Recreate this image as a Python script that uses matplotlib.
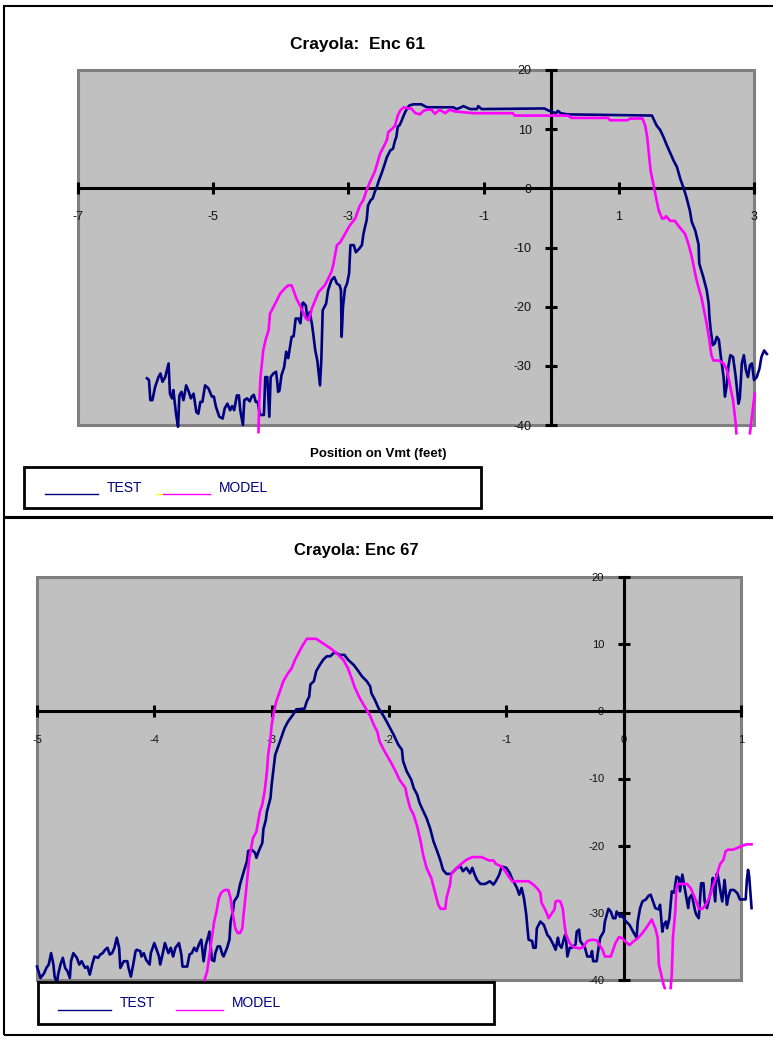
import numpy as np
import matplotlib
matplotlib.use('Agg')
import matplotlib.pyplot as plt
from matplotlib.patches import Rectangle
from matplotlib.lines import Line2D

plt.rcParams['font.family'] = ['Liberation Sans', 'DejaVu Sans']
plt.rcParams['axes.unicode_minus'] = False

nan = np.nan

# Enc 61 : (position, value)
test61 = [(-5.98,-32.1),(-5.95,-32.4),(-5.93,-35.8),(-5.90,-35.8),(-5.86,-33.6),(-5.81,-31.9),(-5.78,-31.3),(-5.75,-32.7),
          (-5.71,-31.9),(-5.66,-29.6),(-5.64,-34.7),(-5.61,-35.5),(-5.59,-34.1),(-5.55,-38.1),(-5.52,-40.3),(-5.50,-35.0),
          (-5.47,-34.4),(-5.44,-35.8),(-5.40,-33.3),(-5.37,-34.1),(-5.33,-35.5),(-5.29,-34.7),(-5.25,-37.8),(-5.22,-38.1),
          (-5.19,-36.1),(-5.16,-36.1),(-5.12,-33.3),(-5.07,-33.8),(-5.02,-35.2),(-4.99,-35.2),(-4.96,-36.9),(-4.91,-38.6),
          (-4.86,-38.9),(-4.83,-37.2),(-4.79,-36.4),(-4.75,-37.5),(-4.72,-36.8),(-4.69,-37.5),(-4.65,-35.0),(-4.62,-35.0),
          (-4.60,-37.5),(-4.56,-40.0),(-4.54,-35.8),(-4.50,-35.5),(-4.46,-36.0),(-4.43,-35.2),(-4.40,-34.9),(-4.37,-36.1),
          (-4.34,-36.1),(-4.31,-38.3),(-4.25,-38.3),(-4.23,-31.9),(-4.20,-31.9),(-4.17,-38.6),(-4.15,-31.9),(-4.11,-31.3),
          (-4.07,-31.0),(-4.05,-33.0),(-4.04,-34.4),(-4.02,-34.2),(-3.99,-31.6),(-3.95,-30.2),(-3.92,-27.6),(-3.89,-28.7),
          (-3.87,-27.3),(-3.84,-25.1),(-3.81,-25.0),(-3.78,-22.0),(-3.74,-22.0),(-3.71,-22.8),(-3.68,-19.5),(-3.67,-19.3),
          (-3.63,-19.8),(-3.61,-21.7),(-3.57,-20.9),(-3.56,-21.7),(-3.54,-22.9),(-3.52,-24.6),(-3.49,-27.4),(-3.46,-29.1),
          (-3.42,-33.3),(-3.40,-28.8),(-3.38,-20.6),(-3.33,-19.5),(-3.30,-17.2),(-3.25,-15.5),(-3.21,-15.0),(-3.17,-16.1),
          (-3.13,-16.4),(-3.11,-17.2),(-3.10,-25.1),(-3.08,-20.0),(-3.05,-16.9),(-3.02,-16.1),(-2.99,-14.4),(-2.97,-9.6),
          (-2.92,-9.6),(-2.89,-10.8),(-2.84,-10.2),(-2.80,-9.6),(-2.78,-7.9),(-2.76,-6.8),(-2.73,-5.4),(-2.71,-2.9),
          (-2.67,-2.0),(-2.64,-1.7),(-2.61,-0.6),(-2.58,0.2),(-2.55,1.3),(-2.51,2.5),(-2.46,4.2),(-2.43,5.3),(-2.38,6.4),
          (-2.34,6.7),(-2.31,8.1),(-2.29,8.7),(-2.27,10.4),(-2.24,10.7),(-2.21,11.5),(-2.19,12.1),(-2.16,12.9),(-2.13,13.5),
          (-2.10,14.0),(-2.04,14.2),(-1.92,14.2),(-1.84,13.7),(-1.45,13.7),(-1.40,13.4),(-1.33,13.7),(-1.30,13.9),
          (-1.20,13.4),(-1.10,13.4),(-1.08,13.9),(-1.03,13.4),(-0.10,13.5),(-0.05,13.2),(0.02,12.9),(0.07,12.7),(0.10,13.1),
          (0.14,12.7),(0.24,12.5),(1.49,12.3),(1.56,10.6),(1.61,9.9),(1.66,8.7),(1.71,7.3),(1.76,6.0),(1.81,4.7),(1.86,3.6),
          (1.91,1.6),(1.96,0.0),(2.00,-1.5),(2.05,-3.7),(2.08,-5.7),(2.13,-7.1),(2.18,-9.5),(2.19,-12.7),(2.25,-15.0),
          (2.30,-17.2),(2.33,-19.5),(2.34,-21.7),(2.36,-24.0),(2.39,-26.5),(2.42,-26.2),(2.45,-25.1),(2.48,-25.6),
          (2.51,-28.5),(2.55,-31.9),(2.57,-35.2),(2.60,-33.0),(2.62,-30.2),(2.65,-28.2),(2.69,-28.5),(2.73,-31.9),
          (2.77,-36.4),(2.79,-35.5),(2.82,-29.6),(2.85,-28.2),(2.88,-30.7),(2.91,-31.9),(2.94,-29.9),(2.97,-29.6),
          (3.00,-32.4),(3.04,-31.9),(3.08,-30.5),(3.11,-28.5),(3.15,-27.4),(3.19,-28.0)]

model61 = [(-4.33,-41.2),(-4.32,-36.4),(-4.30,-31.9),(-4.26,-27.4),(-4.22,-25.4),(-4.18,-24.0),(-4.16,-21.2),(-4.12,-20.3),
           (-4.07,-19.2),(-4.01,-17.8),(-3.94,-16.9),(-3.89,-16.4),(-3.84,-16.4),(-3.81,-17.3),(-3.77,-18.6),(-3.72,-19.7),
           (-3.67,-20.9),(-3.63,-22.0),(-3.59,-22.3),(-3.56,-21.2),(-3.54,-20.3),(-3.49,-18.9),(-3.44,-17.5),(-3.39,-16.9),
           (-3.35,-16.4),(-3.30,-15.3),(-3.25,-14.1),(-3.22,-12.7),(-3.17,-9.6),(-3.12,-9.1),(-3.05,-7.7),(-2.98,-6.3),
           (-2.90,-5.1),(-2.83,-2.9),(-2.78,-2.0),(-2.73,-0.3),(-2.68,1.1),(-2.61,2.8),(-2.53,5.9),(-2.48,7.0),(-2.43,8.2),
           (-2.41,9.5),(-2.35,10.1),(-2.31,10.6),(-2.27,12.3),(-2.23,13.2),(-2.18,13.7),(-2.12,13.5),(-2.07,13.5),
           (-2.01,12.7),(-1.94,12.5),(-1.89,13.1),(-1.83,13.3),(-1.77,13.3),(-1.72,12.6),(-1.65,13.3),(-1.57,12.7),
           (-1.50,13.3),(-1.43,13.0),(-1.15,12.7),(-0.57,12.7),(-0.54,12.3),(0.25,12.3),(0.30,11.9),(0.84,11.9),(0.87,11.5),
           (1.12,11.5),(1.17,11.8),(1.35,11.8),(1.39,10.6),(1.42,8.7),(1.45,5.3),(1.47,3.0),(1.51,0.8),(1.55,-1.5),
           (1.59,-3.7),(1.64,-5.1),(1.67,-5.1),(1.70,-4.7),(1.76,-5.5),(1.83,-5.5),(1.88,-6.3),(1.98,-7.7),(2.03,-9.4),
           (2.08,-11.6),(2.14,-15.0),(2.19,-17.2),(2.22,-18.3),(2.26,-20.6),(2.30,-22.9),(2.34,-25.7),(2.37,-28.2),
           (2.40,-29.1),(2.48,-29.1),(2.55,-29.6),(2.60,-30.7),(2.64,-33.0),(2.69,-35.8),(2.73,-39.8),(2.74,-41.4),
           (2.84,nan),(2.94,-41.4),(3.01,-34.7)]

# Enc 67
test67 = [(-5.00,-38.0),(-4.97,-39.7),(-4.94,-39.0),(-4.92,-38.2),(-4.90,-37.7),(-4.88,-36.0),(-4.86,-37.7),(-4.85,-39.5),
          (-4.83,-40.4),(-4.82,-39.2),(-4.80,-37.7),(-4.78,-36.7),(-4.76,-38.2),(-4.74,-38.7),(-4.72,-39.7),(-4.71,-37.2),
          (-4.69,-36.0),(-4.66,-36.7),(-4.64,-37.7),(-4.62,-37.2),(-4.59,-38.2),(-4.57,-38.0),(-4.55,-39.2),(-4.53,-37.7),
          (-4.51,-36.5),(-4.48,-36.7),(-4.46,-36.2),(-4.44,-36.0),(-4.42,-35.5),(-4.40,-35.2),(-4.38,-36.2),(-4.36,-36.0),
          (-4.34,-35.2),(-4.32,-33.7),(-4.30,-35.2),(-4.29,-38.2),(-4.26,-37.2),(-4.23,-37.2),(-4.22,-38.2),(-4.20,-39.5),
          (-4.18,-37.7),(-4.16,-35.7),(-4.15,-35.5),(-4.12,-35.7),(-4.11,-36.5),(-4.09,-36.0),(-4.07,-37.0),(-4.04,-37.7),
          (-4.03,-36.0),(-4.00,-34.5),(-3.98,-35.5),(-3.96,-36.5),(-3.95,-37.7),(-3.93,-36.2),(-3.91,-34.5),(-3.88,-36.0),
          (-3.86,-35.2),(-3.84,-36.5),(-3.82,-35.2),(-3.79,-34.5),(-3.77,-36.2),(-3.76,-38.0),(-3.72,-38.0),(-3.70,-36.2),
          (-3.68,-36.0),(-3.66,-35.2),(-3.64,-35.7),(-3.62,-34.7),(-3.60,-34.0),(-3.58,-37.2),(-3.56,-34.7),(-3.54,-33.5),
          (-3.53,-32.8),(-3.51,-37.0),(-3.49,-37.2),(-3.48,-36.0),(-3.46,-35.0),(-3.44,-35.0),(-3.42,-36.2),(-3.41,-36.5),
          (-3.38,-35.2),(-3.36,-34.0),(-3.35,-31.3),(-3.33,-29.8),(-3.32,-28.3),(-3.29,-27.5),(-3.27,-25.8),(-3.25,-24.6),
          (-3.23,-23.4),(-3.21,-22.3),(-3.20,-20.8),(-3.17,-20.6),(-3.14,-21.1),(-3.13,-21.8),(-3.11,-20.8),(-3.08,-19.6),
          (-3.07,-17.5),(-3.05,-16.2),(-3.04,-14.9),(-3.01,-12.9),(-3.00,-10.9),(-2.98,-7.9),(-2.97,-6.5),(-2.94,-5.0),
          (-2.91,-3.5),(-2.89,-2.5),(-2.86,-1.5),(-2.81,-0.3),(-2.79,0.3),(-2.72,0.4),(-2.70,1.5),(-2.68,2.2),(-2.67,4.0),
          (-2.64,4.5),(-2.62,6.0),(-2.59,6.9),(-2.56,7.7),(-2.53,8.2),(-2.50,8.2),(-2.47,8.7),(-2.45,8.7),(-2.42,8.4),
          (-2.38,8.4),(-2.35,7.7),(-2.30,6.9),(-2.27,6.2),(-2.23,5.2),(-2.19,4.5),(-2.16,3.7),(-2.15,2.7),(-2.12,1.7),
          (-2.09,0.5),(-2.06,-0.3),(-2.03,-1.2),(-2.00,-2.2),(-1.96,-3.5),(-1.92,-5.0),(-1.89,-5.7),(-1.88,-7.4),
          (-1.85,-8.9),(-1.81,-10.2),(-1.79,-11.4),(-1.76,-12.4),(-1.74,-13.6),(-1.72,-14.4),(-1.68,-15.9),(-1.65,-17.4),
          (-1.62,-19.4),(-1.59,-20.8),(-1.56,-22.3),(-1.54,-23.6),(-1.51,-24.2),(-1.47,-24.2),(-1.42,-23.3),(-1.39,-23.1),
          (-1.37,-23.8),(-1.34,-23.3),(-1.31,-24.1),(-1.29,-23.3),(-1.27,-24.3),(-1.25,-25.1),(-1.22,-25.7),(-1.18,-25.7),
          (-1.14,-25.3),(-1.11,-25.8),(-1.09,-25.3),(-1.06,-24.3),(-1.04,-23.1),(-1.00,-23.3),(-0.97,-24.1),(-0.95,-25.0),
          (-0.93,-25.6),(-0.91,-26.3),(-0.89,-27.3),(-0.87,-26.3),(-0.85,-27.8),(-0.83,-30.3),(-0.82,-32.3),(-0.81,-34.0),
          (-0.78,-34.2),(-0.77,-35.2),(-0.75,-35.2),(-0.74,-32.3),(-0.71,-31.3),(-0.68,-31.8),(-0.65,-33.3),(-0.63,-33.7),
          (-0.60,-34.7),(-0.58,-35.5),(-0.56,-33.7),(-0.55,-34.7),(-0.53,-35.2),(-0.50,-33.3),(-0.49,-34.2),(-0.48,-36.5),
          (-0.46,-35.2),(-0.44,-35.2),(-0.41,-34.7),(-0.40,-32.8),(-0.38,-32.5),(-0.37,-34.2),(-0.35,-34.7),(-0.33,-35.2),
          (-0.31,-36.5),(-0.28,-36.5),(-0.27,-35.7),(-0.26,-37.2),(-0.23,-37.2),(-0.21,-34.7),(-0.20,-33.7),(-0.17,-32.8),
          (-0.16,-31.3),(-0.13,-29.4),(-0.11,-29.8),(-0.09,-30.8),(-0.07,-30.8),(-0.06,-29.8),(-0.03,-30.6),(-0.02,-30.3),
          (0.00,-30.8),(0.02,-31.3),(0.05,-31.8),(0.08,-32.8),(0.11,-33.7),(0.12,-31.3),(0.14,-29.3),(0.16,-28.3),
          (0.19,-28.0),(0.21,-27.5),(0.23,-27.3),(0.25,-28.3),(0.27,-29.3),(0.30,-29.5),(0.31,-28.8),(0.32,-30.8),
          (0.33,-32.8),(0.34,-31.8),(0.36,-31.3),(0.37,-32.3),(0.39,-30.8),(0.40,-28.8),(0.41,-26.8),(0.43,-27.0),
          (0.45,-24.6),(0.47,-24.8),(0.48,-26.8),(0.49,-25.6),(0.50,-24.3),(0.52,-26.3),(0.55,-29.3),(0.56,-27.8),
          (0.58,-27.3),(0.61,-29.8),(0.62,-30.3),(0.64,-30.8),(0.66,-25.6),(0.68,-25.6),(0.69,-28.3),(0.71,-29.3),
          (0.73,-27.8),(0.75,-26.3),(0.76,-24.8),(0.78,-28.3),(0.79,-24.3),(0.80,-24.1),(0.82,-26.3),(0.84,-28.3),
          (0.85,-26.8),(0.86,-25.1),(0.88,-28.8),(0.89,-27.8),(0.91,-26.6),(0.94,-26.6),(0.97,-27.1),(0.99,-28.0),
          (1.04,-28.0),(1.05,-25.1),(1.06,-23.6),(1.07,-24.6),(1.09,-29.3)]

model67 = [(-3.58,-40.4),(-3.55,-38.7),(-3.53,-36.2),(-3.51,-33.7),(-3.49,-31.3),(-3.47,-29.8),(-3.45,-27.8),(-3.43,-27.0),
           (-3.40,-26.6),(-3.37,-26.6),(-3.35,-27.8),(-3.34,-29.3),(-3.32,-31.3),(-3.31,-32.3),(-3.29,-33.0),(-3.27,-33.0),
           (-3.25,-32.3),(-3.24,-30.3),(-3.23,-28.8),(-3.21,-25.3),(-3.19,-21.8),(-3.16,-18.9),(-3.13,-17.9),(-3.10,-14.9),
           (-3.08,-13.9),(-3.06,-11.9),(-3.04,-8.9),(-3.03,-6.5),(-3.01,-4.0),(-3.00,-2.0),(-2.98,0.0),(-2.96,1.5),
           (-2.93,3.0),(-2.90,4.5),(-2.86,5.7),(-2.83,6.4),(-2.80,7.7),(-2.77,8.7),(-2.74,9.7),(-2.70,10.8),(-2.62,10.8),
           (-2.57,10.2),(-2.50,9.4),(-2.45,8.7),(-2.39,7.7),(-2.35,6.4),(-2.32,5.0),(-2.29,3.5),(-2.25,2.0),(-2.20,0.5),
           (-2.16,-0.7),(-2.13,-2.0),(-2.10,-3.0),(-2.08,-4.5),(-2.03,-6.2),(-1.99,-7.4),(-1.95,-8.7),(-1.91,-10.2),
           (-1.86,-11.4),(-1.85,-12.4),(-1.82,-14.4),(-1.79,-15.4),(-1.76,-17.1),(-1.73,-19.4),(-1.71,-21.3),(-1.68,-23.3),
           (-1.64,-24.8),(-1.61,-26.8),(-1.58,-28.8),(-1.56,-29.4),(-1.52,-29.4),(-1.51,-27.8),(-1.48,-25.8),(-1.47,-24.3),
           (-1.44,-23.6),(-1.39,-22.8),(-1.34,-22.1),(-1.29,-21.7),(-1.21,-21.7),(-1.15,-22.2),(-1.11,-22.2),(-1.09,-22.7),
           (-1.04,-23.1),(-1.01,-23.8),(-0.98,-24.6),(-0.95,-25.3),(-0.81,-25.3),(-0.77,-25.8),(-0.74,-26.3),(-0.71,-27.0),
           (-0.70,-28.5),(-0.67,-29.5),(-0.65,-30.3),(-0.64,-30.8),(-0.61,-30.0),(-0.59,-29.5),(-0.58,-28.3),(-0.56,-28.2),
           (-0.54,-28.3),(-0.52,-29.3),(-0.51,-30.8),(-0.50,-32.3),(-0.49,-33.3),(-0.46,-34.5),(-0.43,-35.1),(-0.37,-35.3),
           (-0.34,-35.0),(-0.31,-34.2),(-0.27,-34.0),(-0.23,-34.1),(-0.21,-34.7),(-0.18,-35.5),(-0.16,-36.5),(-0.11,-36.5),
           (-0.09,-35.5),(-0.07,-34.5),(-0.04,-33.6),(-0.01,-33.8),(0.01,-34.2),(0.05,-34.8),(0.08,-34.3),(0.12,-33.8),
           (0.16,-33.0),(0.19,-32.3),(0.22,-31.5),(0.24,-31.0),(0.25,-31.5),(0.27,-32.3),(0.29,-33.7),(0.30,-37.7),
           (0.32,-39.2),(0.34,-40.7),(0.35,-41.2),(0.37,nan),(0.40,-41.2),(0.41,-39.2),(0.42,-33.7),(0.44,-29.8),
           (0.45,-26.3),(0.46,-25.7),(0.54,-25.7),(0.57,-26.3),(0.60,-27.5),(0.63,-28.8),(0.64,-29.4),(0.67,-29.4),
           (0.70,-28.8),(0.73,-27.7),(0.76,-26.1),(0.79,-24.6),(0.82,-22.8),(0.85,-22.1),(0.87,-20.8),(0.89,-20.6),
           (0.93,-20.6),(0.96,-20.4),(1.01,-20.0),(1.05,-19.8),(1.09,-19.8)]

xticks61 = [-7, -5, -3, -1, 1, 3]
xticks67 = [-5, -4, -3, -2, -1, 0, 1]
yticks = [-40, -30, -20, -10, 0, 10, 20]

NAVY = '#000080'
MAGENTA = '#FF00FF'
W, H = 773, 1038

fig = plt.figure(figsize=(W / 100, H / 100), dpi=100)

def fx(px):
    return px / W

def fy(py):
    return 1 - py / H

def panel(rect, test, model, xlim, xticks, lab_size, xpad, ypad):
    ax = fig.add_axes(rect)
    ax.set_facecolor('#C0C0C0')
    ax.set_xlim(*xlim)
    ax.set_ylim(-40, 20)
    for s in ['top', 'right']:
        ax.spines[s].set_visible(False)
    for s in ['left', 'bottom']:
        ax.spines[s].set_position(('data', 0))
        ax.spines[s].set_linewidth(2.2)
        ax.spines[s].set_zorder(3)
    ax.add_patch(Rectangle((0, 0), 1, 1, transform=ax.transAxes, fill=False,
                           edgecolor='#808080', lw=2.2, zorder=1, clip_on=False))
    ax.set_xticks(xticks)
    ax.set_yticks(yticks)
    ax.tick_params(direction='inout', length=8, width=2.2, labelsize=lab_size, labelcolor='#111111')
    ax.tick_params(axis='x', pad=xpad)
    ax.tick_params(axis='y', pad=ypad)
    t = np.array(test)
    m = np.array(model)
    ax.plot(t[:, 0], t[:, 1], color=NAVY, lw=1.9, clip_on=False, zorder=4)
    ax.plot(m[:, 0], m[:, 1], color=MAGENTA, lw=1.9, clip_on=False, zorder=4)
    return ax

ax1 = panel([fx(78), fy(425), fx(754) - fx(78), fy(70) - fy(425)],
            test61, model61, (-7, 3), xticks61, 9, 12, 10)
ax2 = panel([fx(37), fy(980), fx(741) - fx(37), fy(577) - fy(980)],
            test67, model67, (-5, 1), xticks67, 8, 13, 10)

# titles and axis label
fig.text(fx(358), fy(45), 'Crayola:  Enc 61', ha='center', va='center', fontsize=12.5, fontweight='bold')
fig.text(fx(356), fy(551), 'Crayola: Enc 67', ha='center', va='center', fontsize=12, fontweight='bold')
fig.text(fx(378), fy(454), 'Position on Vmt (feet)', ha='center', va='center', fontsize=9.5, fontweight='bold')

# panel borders
fig.add_artist(Rectangle((fx(4), fy(517)), 2, fy(6) - fy(517), transform=fig.transFigure,
                         fill=False, edgecolor='black', lw=1.5))
fig.add_artist(Rectangle((fx(4), fy(1035)), 2, fy(518) - fy(1035), transform=fig.transFigure,
                         fill=False, edgecolor='black', lw=1.5))

# legend boxes
def legend_box(x0, y0, x1, y1, xoff, line_y, text_y, yellow=False):
    fig.add_artist(Rectangle((fx(x0), fy(y1)), fx(x1) - fx(x0), fy(y0) - fy(y1),
                             transform=fig.transFigure, facecolor='white', edgecolor='black', lw=2))
    fig.add_artist(Line2D([fx(xoff + 45), fx(xoff + 98)], [fy(line_y), fy(line_y)], color=NAVY, lw=1))
    fig.text(fx(xoff + 107), fy(text_y), 'TEST', color=NAVY, fontsize=10, va='center')
    if yellow:
        fig.add_artist(Line2D([fx(xoff + 157), fx(xoff + 163)], [fy(line_y), fy(line_y)], color='#FFFF00', lw=1))
    fig.add_artist(Line2D([fx(xoff + 163), fx(xoff + 210)], [fy(line_y), fy(line_y)], color=MAGENTA, lw=1))
    fig.text(fx(xoff + 219), fy(text_y), 'MODEL', color=NAVY, fontsize=10, va='center')

legend_box(24, 467, 481, 508, 0, 494, 488, yellow=True)
legend_box(38, 982, 494, 1024, 13, 1010, 1003)

fig.savefig('out.png', dpi=100)
